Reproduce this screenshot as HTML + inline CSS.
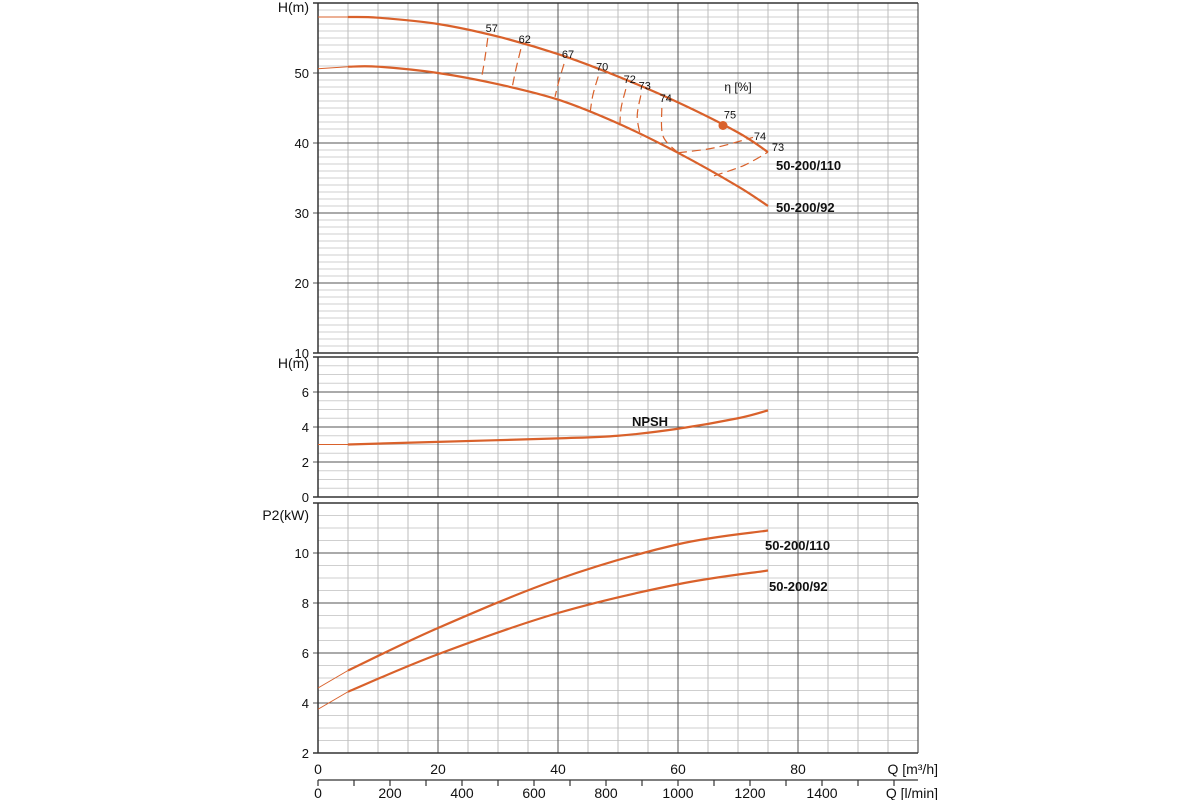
<!DOCTYPE html>
<html><head><meta charset="utf-8"><style>
html,body{margin:0;padding:0;background:#fff;width:1200px;height:800px;overflow:hidden}
text{font-family:"Liberation Sans",sans-serif}
</style></head><body>
<svg id="chart" width="1200" height="800" viewBox="0 0 1200 800" xmlns="http://www.w3.org/2000/svg"></svg>
<script>
// ---- data ----
const qPts = [0, 5, 10, 20, 30, 40, 50, 60, 70, 75];
const head110 = [58, 58, 57.9, 57, 55.2, 52.7, 49.5, 45.8, 41.5, 38.7];
const head92 = [50.6, 50.9, 50.9, 50.0, 48.4, 46.2, 42.8, 38.6, 33.8, 31];
const npshQ = [0, 5, 20, 40, 50, 60, 70, 75];
const npshVals = [3.0, 3.0, 3.15, 3.35, 3.5, 3.9, 4.5, 4.95];
const powQ = [0, 5, 20, 40, 60, 75];
const pow110 = [4.6, 5.3, 7.0, 8.95, 10.35, 10.9];
const pow92 = [3.75, 4.45, 5.95, 7.6, 8.75, 9.3];
const effLabels = ['57', '62', '67', '70', '72', '73', '74'];
const effQTop = [28.3, 33.8, 41, 46.7, 51.3, 53.8, 57.3];
const effHTop = [55.0, 53.4, 51.3, 49.5, 47.7, 46.8, 45.0];
const effQBot = [27.2, 32.3, 39.5, 45.3, 50.3, 53.8, 60];
const effHBot = [49.0, 47.7, 46.6, 44.0, 42.0, 40.8, 38.6];
const effQMid = [27.8, 33.0, 40.2, 45.8, 50.5, 53.2, 57.5];
const effHMid = [52.0, 50.6, 49.0, 46.8, 44.9, 43.8, 41.0];
const bestQ = 67.5, bestH = 42.5;
const tail74Q = [60, 66, 72.5], tail74H = [38.6, 39.3, 40.8];
const tail73Q = [66, 71, 75], tail73H = [35.3, 36.8, 38.7];
const hTicks = [10, 20, 30, 40, 50];
const npshTicks = [0, 2, 4, 6];
const powTicks = [2, 4, 6, 8, 10];
const qTicks = [0, 20, 40, 60, 80];
const lminTicks = [0, 200, 400, 600, 800, 1000, 1200, 1400];

// ---- scales ----
const X0 = 318, X1 = 918;
const x = q => X0 + (q / 100) * (X1 - X0);
const yH = h => 353 - (h - 10) * 7;          // 10..60 -> 353..3
const yN = h => 497 - h * 17.5;               // 0..8
const yP = p => 753 - (p - 2) * 25;           // 2..12
const xl = l => x(l * 60 / 1000);

const svg = document.getElementById('chart');
const NS = 'http://www.w3.org/2000/svg';
function mk(tag, attrs, parent) {
  const e = document.createElementNS(NS, tag);
  for (const k in attrs) e.setAttribute(k, attrs[k]);
  (parent || svg).appendChild(e);
  return e;
}
function txt(s, xx, yy, size, anchor, weight) {
  const t = mk('text', {x: xx, y: yy, 'font-size': size, 'text-anchor': anchor || 'start', 'font-weight': weight || 'normal', fill: '#111'});
  t.textContent = s;
  return t;
}
function smooth(pts) {
  let d = 'M' + pts[0][0] + ',' + pts[0][1];
  for (let i = 0; i < pts.length - 1; i++) {
    const p0 = pts[i - 1] || pts[i], p1 = pts[i], p2 = pts[i + 1], p3 = pts[i + 2] || p2;
    const c1 = [p1[0] + (p2[0] - p0[0]) / 6, p1[1] + (p2[1] - p0[1]) / 6];
    const c2 = [p2[0] - (p3[0] - p1[0]) / 6, p2[1] - (p3[1] - p1[1]) / 6];
    d += ' C' + c1[0] + ',' + c1[1] + ' ' + c2[0] + ',' + c2[1] + ' ' + p2[0] + ',' + p2[1];
  }
  return d;
}

// ---- panels ----
function panel(name, top, bottom, minorStep, majorVals, yfn, lo, hi) {
  const g = mk('g', {});
  
  
  for (let v = lo; v <= hi + 1e-6; v += minorStep) {
    const yy = yfn(v);
    if (yy < top - 0.5 || yy > bottom + 0.5) continue;
    mk('line', {x1: X0, x2: X1, y1: yy, y2: yy, stroke: '#cfcfcf', 'stroke-width': 1}, g);
  }
  for (let q = 0; q <= 100; q += 5) {
    mk('line', {x1: x(q), x2: x(q), y1: top, y2: bottom, stroke: q % 20 === 0 ? '#555' : '#bdbdbd', 'stroke-width': 1}, g);
  }
  majorVals.forEach(v => {
    mk('line', {x1: X0 - 5, x2: X1, y1: yfn(v), y2: yfn(v), stroke: '#555', 'stroke-width': 1}, g);
  });
  mk('line', {x1: X0 - 5, x2: X1, y1: top, y2: top, stroke: '#333', 'stroke-width': 1.5}, g);
  mk('line', {x1: X0 - 5, x2: X1, y1: bottom, y2: bottom, stroke: '#333', 'stroke-width': 1.5}, g);
  mk('line', {x1: X0, x2: X0, y1: top, y2: bottom, stroke: '#333', 'stroke-width': 1.5}, g);
  mk('line', {x1: X1, x2: X1, y1: top, y2: bottom, stroke: '#333', 'stroke-width': 1}, g);
  return g;
}
panel('head-panel', 3, 353, 1, hTicks, yH, 10, 60);
panel('npsh-panel', 357, 497, 0.5, npshTicks, yN, 0, 8);
panel('power-panel', 503, 753, 0.5, powTicks, yP, 2, 12);

// y tick labels
hTicks.forEach(v => { const t = txt(String(v), 309, yH(v) + 5, 13, 'end');   });
npshTicks.forEach(v => { const t = txt(String(v), 309, yN(v) + 5, 13, 'end');   });
powTicks.forEach(v => { const t = txt(String(v), 309, yP(v) + 5, 13, 'end');   });
let at;
at = txt('H(m)', 309, 12, 14, 'end');  
at = txt('H(m)', 309, 368, 14, 'end');  
at = txt('P2(kW)', 309, 520, 14, 'end');  

// x axes
qTicks.forEach(q => { const t = txt(String(q), x(q), 774, 14, 'middle');   });
at = txt('Q [m³/h]', 938, 774, 14, 'end');  
mk('line', {x1: X0, x2: x(100), y1: 780, y2: 780, stroke: '#333', 'stroke-width': 1.2});
for (let l = 0; l <= 1600; l += 100) {
  mk('line', {x1: xl(l), x2: xl(l), y1: 780, y2: 786, stroke: '#333', 'stroke-width': 1.2});
}
lminTicks.forEach(l => { const t = txt(String(l), xl(l), 798, 14, 'middle');   });
at = txt('Q [l/min]', 938, 798, 14, 'end');  

// ---- curves ----
const OR = '#d9612b';
function curve(name, qs, vs, yfn) {
  const pts = qs.map((q, i) => [x(q), yfn(vs[i])]);
  const thin = mk('path', {d: smooth(pts.slice(0, 2)), fill: 'none', stroke: OR, 'stroke-width': 1});
  
  
  const p = mk('path', {d: smooth(pts.slice(1)), fill: 'none', stroke: OR, 'stroke-width': 2.2});
  
  
}
curve('head-curve-110', qPts, head110, yH);
curve('head-curve-92', qPts, head92, yH);
curve('npsh-curve', npshQ, npshVals, yN);
curve('power-curve-110', powQ, pow110, yP);
curve('power-curve-92', powQ, pow92, yP);

// efficiency iso-lines
effLabels.forEach((lab, i) => {
  const pts = [[x(effQTop[i]), yH(effHTop[i])], [x(effQMid[i]), yH(effHMid[i])], [x(effQBot[i]), yH(effHBot[i])]];
  const p = mk('path', {d: smooth(pts), fill: 'none', stroke: OR, 'stroke-width': 1.2, 'stroke-dasharray': '9,5'});
  
  
  const t = txt(lab, x(effQTop[i]) + 4, yH(effHTop[i]) - 6, 11, 'middle');
  
  
});
let tp = mk('path', {d: smooth(tail74Q.map((q, i) => [x(q), yH(tail74H[i])])), fill: 'none', stroke: OR, 'stroke-width': 1.2, 'stroke-dasharray': '9,5'});


tp = mk('path', {d: smooth(tail73Q.map((q, i) => [x(q), yH(tail73H[i])])), fill: 'none', stroke: OR, 'stroke-width': 1.2, 'stroke-dasharray': '9,5'});


const dot = mk('circle', {cx: x(bestQ), cy: yH(bestH), r: 4.5, fill: OR});



let l;
l = txt('75', x(bestQ) + 7, yH(bestH) - 7, 11, 'middle');  
l = txt('74', 760, 140, 11, 'middle');  
l = txt('73', 778, 151, 11, 'middle');  
l = txt('η [%]', 738, 91, 12, 'middle');  
l = txt('50-200/110', 776, 170, 13, 'start', 'bold');  
l = txt('50-200/92', 776, 212, 13, 'start', 'bold');  
l = txt('NPSH', 650, 426, 13, 'middle', 'bold');  
l = txt('50-200/110', 765, 550, 13, 'start', 'bold');  
l = txt('50-200/92', 769, 591, 13, 'start', 'bold');  
</script>
</body></html>
